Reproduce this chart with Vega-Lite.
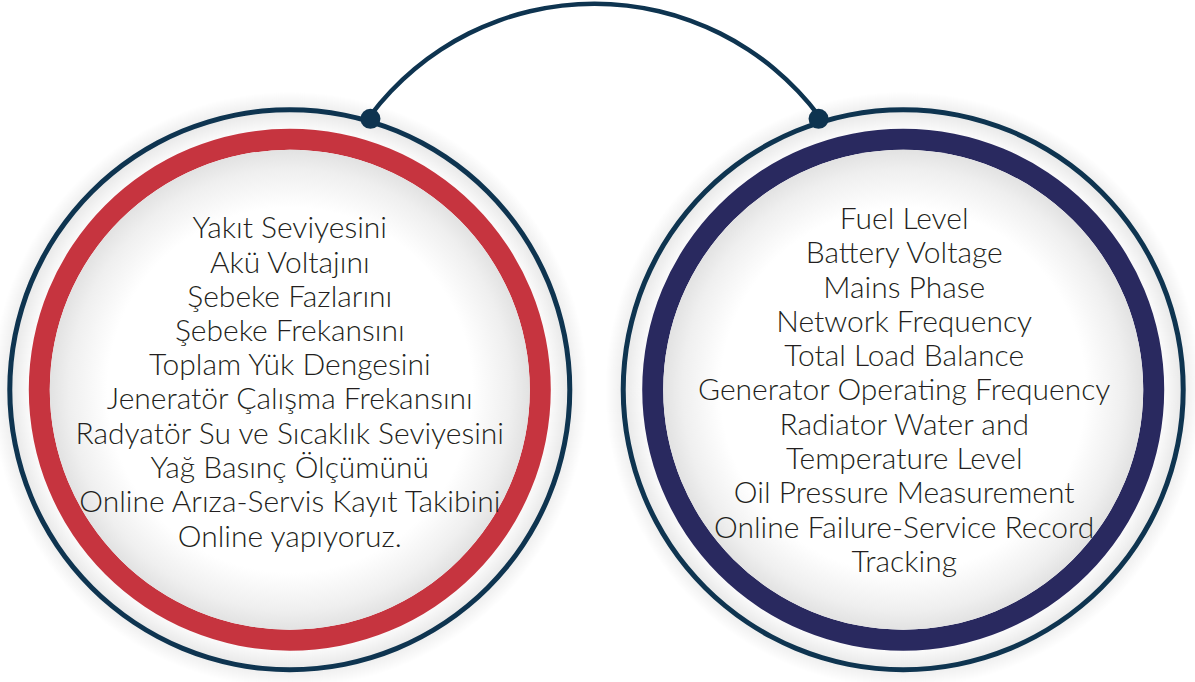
{
  "$schema": "https://vega.github.io/schema/vega-lite/v6.json",
  "width": 1195,
  "height": 682,
  "autosize": {"type": "none"},
  "padding": 0,
  "background": "#ffffff",
  "config": {"view": {"stroke": null}},
  "datasets": {
    "circles": [
      {"lang": "tr", "cx": 291, "cy": 400},
      {"lang": "en", "cx": 907, "cy": 400}
    ],
    "connector": [{"cx": 597, "cy": 292}],
    "dots": [{"px": 372, "py": 122}, {"px": 822, "py": 122}],
    "lines": [
      {"tx": 291, "ty": 244.5, "label": "Yakıt Seviyesini"},
      {"tx": 291, "ty": 279.7, "label": "Akü Voltajını"},
      {"tx": 291, "ty": 314.8, "label": "Şebeke Fazlarını"},
      {"tx": 291, "ty": 350, "label": "Şebeke Frekansını"},
      {"tx": 291, "ty": 385.2, "label": "Toplam Yük Dengesini"},
      {"tx": 291, "ty": 420.3, "label": "Jeneratör Çalışma Frekansını"},
      {"tx": 291, "ty": 455.5, "label": "Radyatör Su ve Sıcaklık Seviyesini"},
      {"tx": 291, "ty": 490.7, "label": "Yağ Basınç Ölçümünü"},
      {"tx": 291, "ty": 525.8, "label": "Online Arıza-Servis Kayıt Takibini"},
      {"tx": 291, "ty": 561, "label": "Online yapıyoruz."},
      {"tx": 908, "ty": 235, "label": "Fuel Level"},
      {"tx": 908, "ty": 270.2, "label": "Battery Voltage"},
      {"tx": 908, "ty": 305.4, "label": "Mains Phase"},
      {"tx": 908, "ty": 340.6, "label": "Network Frequency"},
      {"tx": 908, "ty": 375.8, "label": "Total Load Balance"},
      {"tx": 908, "ty": 411, "label": "Generator Operating Frequency"},
      {"tx": 908, "ty": 446.2, "label": "Radiator Water and"},
      {"tx": 908, "ty": 481.4, "label": "Temperature Level"},
      {"tx": 908, "ty": 516.6, "label": "Oil Pressure Measurement"},
      {"tx": 908, "ty": 551.8, "label": "Online Failure-Service Record"},
      {"tx": 908, "ty": 587, "label": "Tracking"}
    ]
  },
  "layer": [
    {
      "data": {"name": "circles"},
      "mark": {
        "type": "arc", "radius": 298, "radius2": 0, "theta": 0, "theta2": 6.2832,
        "fill": {"gradient": "radial", "stops": [
          {"offset": 0, "color": "#ffffff"},
          {"offset": 0.86, "color": "#ffffff"},
          {"offset": 0.93, "color": "#eaeaea"},
          {"offset": 1, "color": "#ffffff"}
        ]}
      },
      "encoding": {
        "x": {"field": "cx", "type": "quantitative", "scale": {"domain": [0, 1195], "range": [0, 1195]}, "axis": null},
        "y": {"field": "cy", "type": "quantitative", "scale": {"domain": [0, 682], "range": [0, 682]}, "axis": null}
      }
    },
    {
      "data": {"name": "circles"},
      "mark": {"type": "arc", "radius": 261, "radius2": 240, "theta": 0, "theta2": 6.2832},
      "encoding": {
        "x": {"field": "cx", "type": "quantitative"},
        "y": {"field": "cy", "type": "quantitative"},
        "color": {"field": "lang", "type": "nominal", "scale": {"domain": ["tr", "en"], "range": ["#c6343f", "#29295f"]}, "legend": null}
      }
    },
    {
      "data": {"name": "circles"},
      "mark": {"type": "arc", "radius": 282.5, "radius2": 277.5, "theta": 0, "theta2": 6.2832, "fill": "#0e3450"},
      "encoding": {
        "x": {"field": "cx", "type": "quantitative"},
        "y": {"field": "cy", "type": "quantitative"}
      }
    },
    {
      "data": {"name": "circles"},
      "mark": {
        "type": "arc", "radius": 240, "radius2": 0, "theta": 0, "theta2": 6.2832,
        "fill": {"gradient": "radial", "stops": [
          {"offset": 0, "color": "#ffffff"},
          {"offset": 0.76, "color": "#ffffff"},
          {"offset": 0.92, "color": "#efefef"},
          {"offset": 1, "color": "#e2e2e2"}
        ]}
      },
      "encoding": {
        "x": {"field": "cx", "type": "quantitative"},
        "y": {"field": "cy", "type": "quantitative"}
      }
    },
    {
      "data": {"name": "connector"},
      "mark": {"type": "arc", "radius": 283, "radius2": 278.5, "theta": -0.9273, "theta2": 0.9273, "fill": "#0e3450"},
      "encoding": {
        "x": {"field": "cx", "type": "quantitative"},
        "y": {"field": "cy", "type": "quantitative"}
      }
    },
    {
      "data": {"name": "dots"},
      "mark": {"type": "point", "shape": "circle", "filled": true, "size": 400, "color": "#0e3450", "opacity": 1},
      "encoding": {
        "x": {"field": "px", "type": "quantitative"},
        "y": {"field": "py", "type": "quantitative"}
      }
    },
    {
      "data": {"name": "lines"},
      "mark": {"type": "text", "font": "Lato", "fontWeight": 300, "fontSize": 30, "color": "#231f20", "align": "center", "baseline": "alphabetic"},
      "encoding": {
        "x": {"field": "tx", "type": "quantitative"},
        "y": {"field": "ty", "type": "quantitative"},
        "text": {"field": "label", "type": "nominal"}
      }
    }
  ]
}
